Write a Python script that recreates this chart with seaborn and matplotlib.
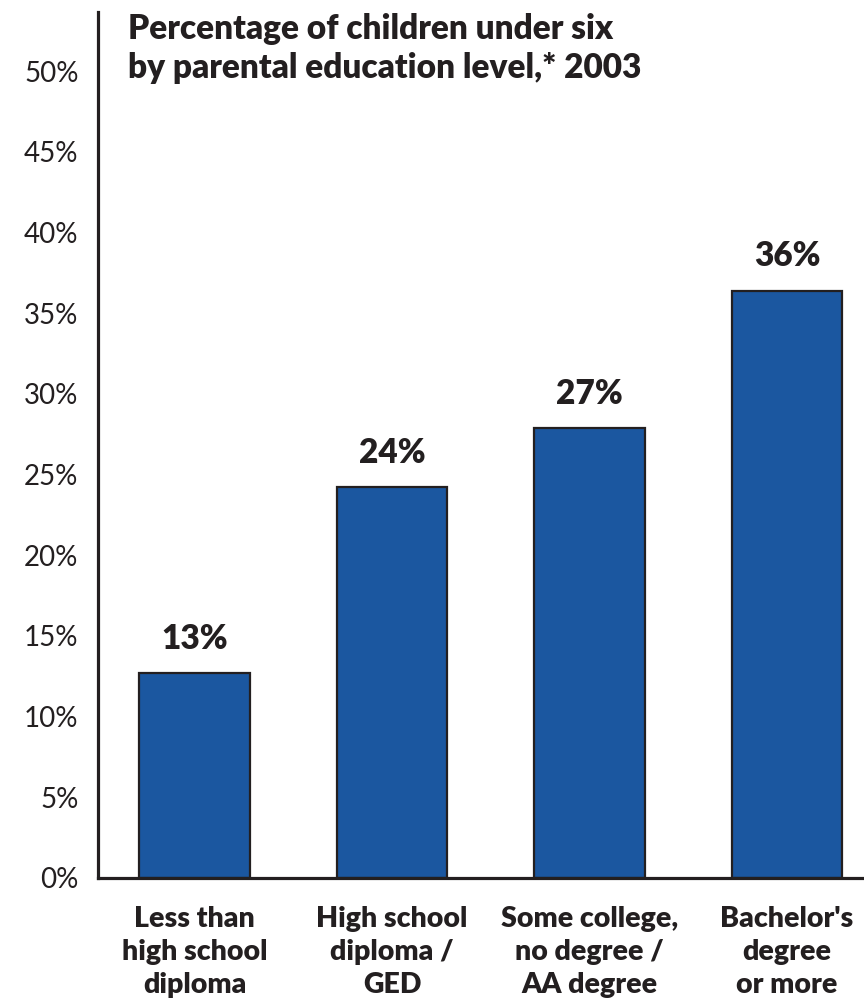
import matplotlib
matplotlib.use("Agg")
import matplotlib.pyplot as plt
import seaborn as sns
import pandas as pd

categories = ["Less than\nhigh school\ndiploma",
              "High school\ndiploma /\nGED",
              "Some college,\nno degree /\nAA degree",
              "Bachelor's\ndegree\nor more"]
values = [12.7, 24.2, 27.9, 36.4]
value_labels = ["13%", "24%", "27%", "36%"]
yticks = [0, 5, 10, 15, 20, 25, 30, 35, 40, 45, 50]
title = "Percentage of children under six\nby parental education level,* 2003"

sns.set_theme(style="white")
plt.rcParams['font.family'] = ['Lato', 'DejaVu Sans']
ink = "#231f20"
blue = "#1b57a0"

df = pd.DataFrame({"cat": categories, "val": values})

fig = plt.figure(figsize=(8.64, 10.01), dpi=100)
ax = fig.add_axes([98/864, 123/1001, 1 - 98/864, (878 - 12)/1001])

sns.barplot(data=df, x="cat", y="val", color=blue, width=0.56,
            edgecolor=ink, linewidth=1.6, saturation=1, ax=ax)

heavy = "heavy"
ax.set_xlim(-0.49, 3.39)
ax.set_ylim(0, 866/16.14)
ax.set_yticks(yticks)
ax.set_yticklabels([f"{t}%" for t in yticks], fontsize=20, color=ink)
ax.tick_params(axis="y", length=0, pad=14)
ax.tick_params(axis="x", length=0, pad=20)
for lbl in ax.get_xticklabels():
    lbl.set_fontsize(20.5)
    lbl.set_fontweight(heavy)
    lbl.set_color(ink)
    lbl.set_linespacing(1.34)
ax.set_xlabel("")
ax.set_ylabel("")

for s in ["top", "right"]:
    ax.spines[s].set_visible(False)
for s in ["left", "bottom"]:
    ax.spines[s].set_color(ink)
    ax.spines[s].set_linewidth(2.3)

for i, (v, t) in enumerate(zip(values, value_labels)):
    ax.annotate(t, (i, v), xytext=(0, 13), textcoords="offset points",
                ha="center", va="bottom", fontsize=24, fontweight=heavy, color=ink)

fig.text(128/864, 1 - 13/1001, title, ha="left", va="top", fontsize=24,
         fontweight=heavy, color=ink, linespacing=1.25)

fig.savefig("out.png", dpi=100)
